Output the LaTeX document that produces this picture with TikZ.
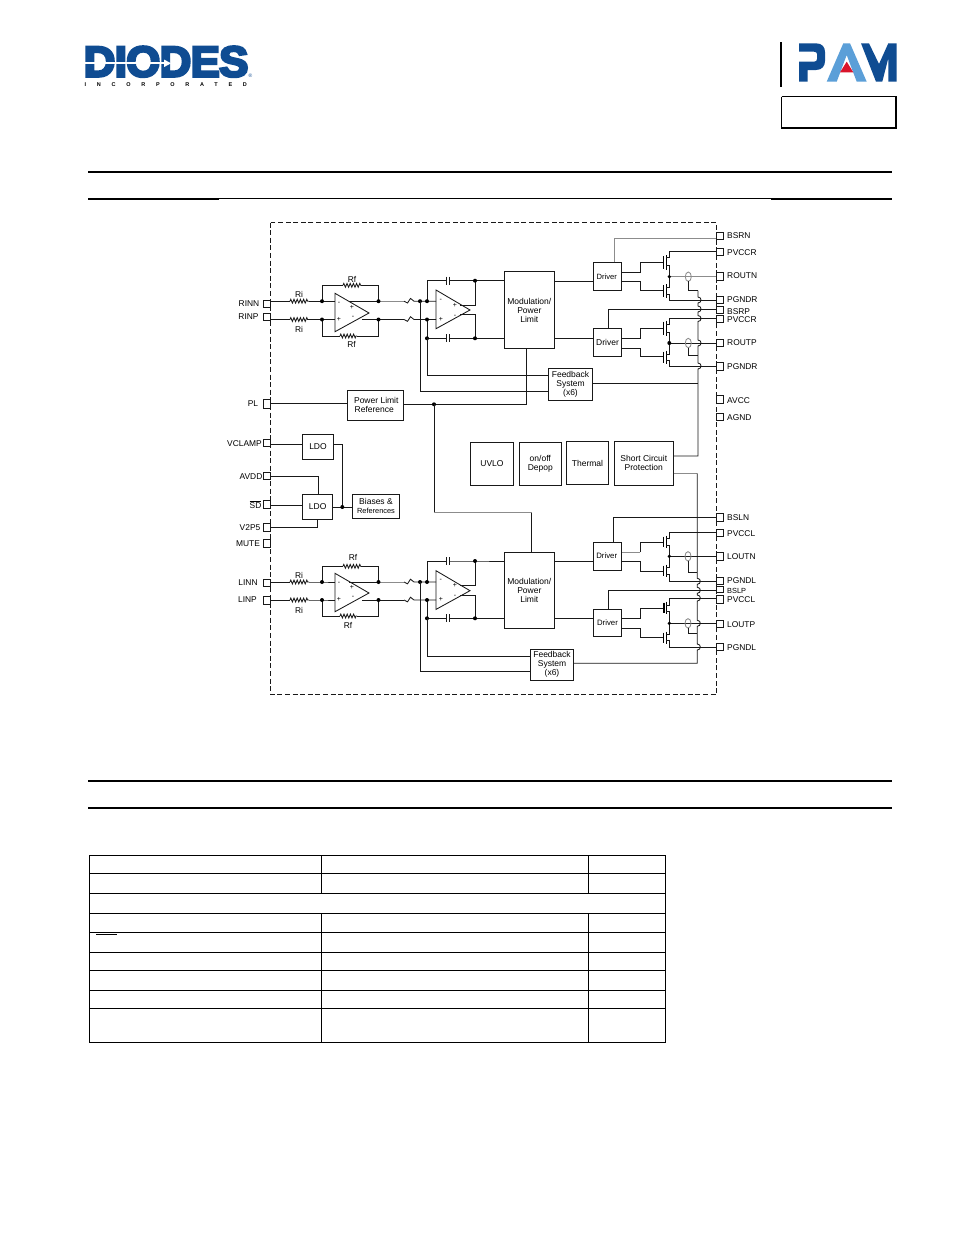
\documentclass[tikz,border=0pt]{standalone}
\usepackage{fontspec}
\setmainfont{Liberation Sans}
\newfontfamily\heavyfont[BoldFeatures={FakeBold=6,FakeStretch=1.02,LetterSpace=-1.6}]{Liberation Sans}
\newfontfamily\incfont[BoldFeatures={LetterSpace=195}]{Liberation Sans}
\usetikzlibrary{decorations.pathmorphing}
\definecolor{dblue}{HTML}{0F4C92}
\definecolor{lblue}{HTML}{5B9FD8}
\definecolor{pamred}{HTML}{D9142B}
\definecolor{thin}{gray}{0.55}
\tikzset{
  wire/.style={draw=black!90,line width=0.85pt},
  gwire/.style={draw=thin,line width=0.85pt},
  blockn/.style={draw=black!90,line width=0.85pt,inner sep=0pt,align=center,font=\fontsize{8.5}{9}\selectfont},
  pinbox/.style={draw=black!90,line width=0.85pt,inner sep=0pt},
  lbl/.style={inner sep=0pt,yshift=-0.5pt,font=\fontsize{8.4}{9}\selectfont},
  sgn/.style={inner sep=0pt,font=\fontsize{7}{8}\selectfont},
  rule/.style={draw=black,line width=1.6pt},
  cell/.style={draw=black,line width=0.9pt},
  resz/.style={wire,decorate,decoration={zigzag,segment length=3.2pt,amplitude=1.9pt}},
}
% \blk{name}{x0}{y0}{x1}{y1}{text}
\newcommand{\blk}[6]{%
  \pgfmathsetmacro{\bw}{#4-#2}\pgfmathsetmacro{\bh}{#5-#3}%
  \pgfmathsetmacro{\bx}{(#4+#2)/2}\pgfmathsetmacro{\by}{(#5+#3)/2}%
  \node[blockn,minimum width=\bw pt,minimum height=\bh pt] (#1) at (\bx,\by) {#6};}
% \pinb{name}{x0}{y0}{y1}
\newcommand{\pinb}[4]{%
  \pgfmathsetmacro{\bw}{7}\pgfmathsetmacro{\bh}{#4-#3}%
  \pgfmathsetmacro{\bx}{#2+3.5}\pgfmathsetmacro{\by}{(#4+#3)/2}%
  \node[pinbox,minimum width=\bw pt,minimum height=\bh pt] (#1) at (\bx,\by) {};}
% \fet{gate-in y}{gate y}{channel top}{channel bottom}{driver}
\newcommand{\fet}[5]{%
  \draw[wire] (#5.east |- 0,#1) -- (640,#1) -- (640,#2) -- (662.7,#2);
  \draw[line width=1pt] (663.4,#3) -- (663.4,#4);
  \draw[line width=1pt] (666,#3-1) -- (666,#4+1);
}
\begin{document}
\begin{tikzpicture}[x=1pt,y=-1pt]
\useasboundingbox (0,0) rectangle (954,1235);
\fill[white] (0,0) rectangle (954,1235);
% ---------- logos
\node[inner sep=0pt,anchor=base west,text=dblue,font=\fontsize{43}{43}\bfseries\heavyfont] (diodes) at (83.5,76.5) {DIODES};
\draw[white,line width=2pt] (84,63.3) -- (164,63.3);
\fill[white] (164,59.5) -- (171,63.3) -- (164,67.1) -- cycle;
\node[inner sep=0pt,text=dblue,font=\fontsize{5}{5}\selectfont] (regm) at (250.5,76) {®};
\node[inner sep=0pt,anchor=base west,font=\fontsize{5.5}{6}\bfseries\incfont] (inc) at (84.5,86.5) {INCORPORATED};
\draw[black,line width=1.2pt] (781,42) -- (781,87);
\fill[dblue] (799,43.3) -- (816,43.3) .. controls (822,43.3) and (825,47) .. (825,52) -- (825,61) .. controls (825,66) and (822,70) .. (816,70) -- (807.7,70) -- (807.7,81.7) -- (799,81.7) -- (799,61.7) -- (814,61.7) .. controls (816,61.7) and (817,60.5) .. (817,59) -- (817,54) .. controls (817,52.7) and (816,51.7) .. (814,51.7) -- (799,51.7) -- cycle;
\fill[lblue] (843.3,43.3) -- (850,43.3) -- (866.7,81.7) -- (856.7,81.7) -- (846.7,55) -- (836.7,81.7) -- (826.7,81.7) -- cycle;
\fill[pamred] (846.7,61.7) -- (853.3,72.3) -- (840,72.3) -- cycle;
\fill[dblue] (861,43.3) -- (869,43.3) -- (879,64) -- (888.3,43.3) -- (896.7,43.3) -- (896.7,81.7) -- (888.3,81.7) -- (888.3,58.3) -- (882.3,81.7) -- (876,81.7) -- cycle;
\draw[black,line width=1pt] (781.5,96.5) -- (895.5,96.5);
\draw[black,line width=1pt] (781.5,96.5) -- (781.5,128);
\draw[black,line width=1.6pt] (781,128) -- (896,128) -- (896,96);
% ---------- rules
\draw[rule] (88,172) -- (892,172);
\draw[rule] (88,199) -- (219,199);
\draw[black,line width=0.7pt] (219,198.7) -- (771,198.7);
\draw[rule] (771,199) -- (892,199);
\draw[rule] (88,781) -- (892,781);
\draw[rule] (88,808) -- (892,808);
% ---------- outer dashed box
\draw[black!90,line width=0.85pt,dash pattern=on 5pt off 2.6pt] (270.5,222.5) rectangle (716.7,694.5);
% ---------- pins left
\pinb{pRINN}{263.5}{300}{307}
\pinb{pRINP}{263.5}{313}{320.5}
\pinb{pPL}{263}{399}{408}
\pinb{pVCLAMP}{263.5}{439.3}{446.7}
\pinb{pAVDD}{263.5}{472.3}{479}
\pinb{pSD}{263.5}{500.7}{508.7}
\pinb{pV2P5}{263.5}{523.3}{531}
\pinb{pMUTE}{263.5}{539.7}{547.3}
\pinb{pLINN}{263.5}{579}{586.7}
\pinb{pLINP}{263.5}{596.7}{604}
% labels left
\node[lbl] (tRINN) at (249,303.5) {RINN};
\node[lbl] (tRINP) at (248.5,316.5) {RINP};
\node[lbl] (tPL) at (253,403) {PL};
\node[lbl] (tVCLAMP) at (244.5,443) {VCLAMP};
\node[lbl] (tAVDD) at (251,476) {AVDD};
\node[lbl] (tSD) at (255.5,504) {$\overline{\mbox{SD}}$};
\node[lbl] (tV2P5) at (250,527) {V2P5};
\node[lbl] (tMUTE) at (248,543) {MUTE};
\node[lbl] (tLINN) at (248,582) {LINN};
\node[lbl] (tLINP) at (247.5,599) {LINP};
% ---------- pins right
\foreach \nm/\a/\b in {BSRN/232.3/239.3,PVCCR/248/255.7,ROUTN/272/280,PGNDR/296.7/303,BSRP/306.7/313.3,PVCCRb/315.7/322,ROUTP/339.3/346.7,PGNDRb/362.7/370,AVCC/395.7/403.3,AGND/413.3/420.7,BSLN/513.3/521,PVCCL/529/536,LOUTN/552.7/560,PGNDL/577.3/584.3,BSLP/586.7/592.7,PVCCLb/595/603.3,LOUTP/620/627.3,PGNDLb/643.3/650.7}{\pinb{p\nm}{716.7}{\a}{\b}}
\foreach \nm/\y/\t in {BSRN/235.5/BSRN,PVCCR/252/PVCCR,ROUTN/275.5/ROUTN,PGNDR/299/PGNDR,BSRP/311/BSRP,PVCCRb/319/PVCCR,ROUTP/342/ROUTP,PGNDRb/366/PGNDR,AVCC/400/AVCC,AGND/417/AGND,BSLN/517/BSLN,PVCCL/533/PVCCL,LOUTN/556/LOUTN,PGNDL/580/PGNDL,PVCCLb/599/PVCCL,LOUTP/624/LOUTP,PGNDLb/647/PGNDL}{\node[lbl,anchor=west] (t\nm) at (727,\y) {\t};}
\node[lbl,anchor=west,font=\fontsize{7.4}{8}\selectfont] (tBSLP) at (727,590) {BSLP};
% ---------- blocks
\blk{modA}{504.3}{271.7}{554.3}{348.3}{Modulation/\\Power\\Limit}
\blk{modB}{504.3}{552.3}{554.3}{628.3}{Modulation/\\Power\\Limit}
\blk{drvA}{593.3}{262.7}{621.7}{290.3}{\fontsize{7.6}{8}\selectfont Driver\hspace*{1.5pt}}
\blk{drvB}{593.3}{328.3}{621.7}{356}{Driver}
\blk{drvC}{593.3}{542.3}{621.7}{570}{\fontsize{7.8}{8}\selectfont Driver\hspace*{1.5pt}}
\blk{drvD}{593.3}{609.3}{621.7}{636.7}{\fontsize{7.8}{8}\selectfont Driver}
\blk{fbA}{548.3}{368}{592.7}{400.3}{Feedback\\System\\(x6)}
\blk{fbB}{530.7}{649.3}{573.3}{680}{Feedback\\System\\(x6)}
\blk{plr}{347.3}{390.3}{403.3}{420.3}{\hspace*{2pt}Power Limit\\\hspace*{-2pt}Reference}
\blk{ldoA}{302.7}{434}{333.3}{459.3}{LDO}
\blk{ldoB}{302.7}{494.3}{332.7}{519.3}{LDO}
\blk{bias}{352.3}{494.3}{399.7}{518.3}{Biases \&\\{\fontsize{7.4}{9}\selectfont References}}
\blk{uvlo}{470.7}{442.3}{513.3}{485}{UVLO}
\blk{depop}{519.3}{442.7}{561.3}{485}{on/off\\Depop}
\blk{therm}{566.7}{441.7}{608.3}{484.3}{Thermal}
\blk{scp}{614.3}{441.7}{673.3}{485}{Short Circuit\\Protection}
% ---------- amplifiers
\foreach \dy/\ya/\yb/\yt/\yB/\ca/\cb/\sa/\sb in {0/301.2/319.5/285.3/336/280.7/338.3/305.7/314.3,1/582/600/566.3/616/561/618.3/585.3/595}{
  \pgfmathsetmacro{\ot}{\ifnum\dy=0 293.3\else 573.3\fi}
  \pgfmathsetmacro{\ob}{\ot+38.4}
  \pgfmathsetmacro{\om}{\ot+19.7}
  \draw[wire] (335,\ot) -- (369,\om) -- (335,\ob) -- cycle;
  \pgfmathsetmacro{\pt}{\ifnum\dy=0 290\else 570.7\fi}
  \pgfmathsetmacro{\pb}{\pt+38.7}
  \pgfmathsetmacro{\pm}{\pt+20}
  \draw[wire] (436,\pt) -- (470,\pm) -- (436,\pb) -- cycle;
  % resistors Ri
  \draw[wire] (270.5,\ya) -- (290,\ya); \draw[resz] (290,\ya) -- (309,\ya); \draw[wire] (309,\ya) -- (322,\ya) -- (335,\ya);
  \draw[wire] (270.5,\yb) -- (290,\yb); \draw[resz] (290,\yb) -- (309,\yb); \draw[wire] (309,\yb) -- (322,\yb) -- (335,\yb);
  % Rf
  \draw[wire] (322,\ya) -- (322,\yt) -- (343,\yt); \draw[resz] (343,\yt) -- (361,\yt); \draw[wire] (361,\yt) -- (378.5,\yt) -- (378.5,\ya);
  \draw[wire] (322,\yb) -- (322,\yB) -- (340,\yB); \draw[resz] (340,\yB) -- (357,\yB); \draw[wire] (357,\yB) -- (378.5,\yB) -- (378.5,\yb);
  % outputs first stage
  \draw[wire] (349,\ya) -- (378.5,\ya);
  \draw[wire] (362,\yb) -- (378.5,\yb);
  % series resistors
  \draw[gwire] (378.5,\ya) -- (404,\ya);
  \draw[wire] (378.5,\yb) -- (404,\yb);
  \draw[wire] (404,\ya) -- (407.5,\ya+1.8) -- (410.5,\ya-2.8) -- (414,\ya) -- (436,\ya);
  \draw[wire] (404,\yb) -- (407.5,\yb+1.8) -- (410.5,\yb-2.8) -- (414,\yb) -- (436,\yb);
  % second stage feedback with capacitors
  \draw[wire] (427,\ya) -- (427,\ca) -- (446.7,\ca);
  \draw[wire] (449.7,\ca) -- (475,\ca) -- (504.3,\ca);
  \draw[wire] (446.7,\ca-4) -- (446.7,\ca+4) (449.7,\ca-4) -- (449.7,\ca+4);
  \draw[wire] (427,\yb) -- (427,\cb) -- (446.7,\cb);
  \draw[wire] (449.7,\cb) -- (475,\cb) -- (504.3,\cb);
  \draw[wire] (446.7,\cb-4) -- (446.7,\cb+4) (449.7,\cb-4) -- (449.7,\cb+4);
  \draw[wire] (475,\ca) -- (475,\sa) -- (460,\sa);
  \draw[wire] (475,\cb) -- (475,\sb) -- (460,\sb);
  % junction dots
  \foreach \jx/\jy in {322/\ya,322/\yb,378.5/\ya,378.5/\yb,420/\ya,427/\ya,427/\yb,475/\ca,475/\cb,427/\cb}{\fill (\jx,\jy) circle[radius=2];}
  % signs
  \node[sgn] at (339,\ot+10) {-};
  \node[sgn] at (352,\ot+14) {+};
  \node[sgn] at (339,\ot+26) {+};
  \node[sgn] at (353,\ot+24) {-};
  \node[sgn] at (440.7,\pt+10) {-};
  \node[sgn] at (455,\pt+15) {+};
  \node[sgn] at (455,\pt+26) {-};
  \node[sgn] at (441,\pt+29) {+};
}
% labels Ri / Rf
\foreach \x/\y/\t in {299/294/Ri,299/328.5/Ri,352/279/Rf,351.5/344/Rf,299/575/Ri,299/610/Ri,353/556.5/Rf,348/624.5/Rf}{\node[lbl] at (\x,\y) {\t};}
% ---------- connections upper
\draw[wire] (420,301.2) -- (420,391) -- (fbA.west |- 0,391);
\draw[wire] (427,338.3) -- (427,375) -- (fbA.west |- 0,375);
\draw[wire] (pPL.east) -- (plr.west |- pPL.east);
\draw[wire] (plr.east |- 0,404.3) -- (526,404.3) -- (526,348.3);
\fill (434,404.3) circle[radius=2];
\draw[wire] (434,404.3) -- (434,512.5);
\draw[gwire] (434,512.5) -- (531.7,512.5);
\draw[wire] (531.7,512.5) -- (modB.north -| 531.7,0);
% mod to drivers
\draw[wire] (modA.east |- 0,281.3) -- (drvA.west |- 0,281.3);
\draw[wire] (modA.east |- 0,338) -- (drvB.west |- 0,338);
\draw[wire] (modB.east |- 0,561) -- (drvC.west |- 0,561);
\draw[wire] (modB.east |- 0,618.3) -- (drvD.west |- 0,618.3);
% bootstrap
\draw[gwire] (drvA.north -| 614.3,0) -- (614.3,238) -- (pBSRN.west |- 0,238);
\draw[wire] (drvB.north -| 608.3,0) -- (608.3,309.3) -- (pBSRP.west |- 0,309.3);
\draw[wire] (drvC.north -| 613.3,0) -- (613.3,517.3) -- (pBSLN.west |- 0,517.3);
\draw[wire] (drvD.north -| 608.3,0) -- (608.3,590.3) -- (pBSLP.west |- 0,590.3);
% MOSFETs: driver A
\fet{272.3}{262.3}{256}{269.3}{drvA}
\fet{281.7}{290}{285}{296.7}{drvA}
\draw[wire] (666,257) -- (669.3,257) -- (669.3,251.5) -- (pPVCCR.west |- 0,251.5);
\draw[wire] (666,265) -- (669.3,265) -- (669.3,287.3) -- (666,287.3);
\draw[wire] (666,294) -- (669.3,294) -- (669.3,300) -- (694,300);
\draw[gwire] (669.3,276.7) -- (pROUTN.west |- 0,276.7);
\fill (669.3,276.7) circle[radius=1.8];
% driver B
\fet{338.3}{328.3}{321.7}{335}{drvB}
\fet{348.3}{356}{351.7}{362.7}{drvB}
\draw[wire] (666,324) -- (669.3,324) -- (669.3,318.5) -- (pPVCCRb.west |- 0,318.5);
\draw[wire] (666,332.7) -- (669.3,332.7) -- (669.3,354) -- (666,354);
\draw[wire] (666,360) -- (669.3,360) -- (669.3,366) -- (pPGNDRb.west |- 0,366);
\draw[wire] (669.3,343) -- (pROUTP.west |- 0,343);
\fill (669.3,343) circle[radius=2];
\draw[wire] (694,300) -- (pPGNDR.west |- 0,300);
% driver C
\draw[gwire] (drvC.east |- 0,552) -- (640,552);
\draw[wire] (640,552) -- (640,542.3) -- (662.7,542.3);
\draw[line width=1pt] (663.4,536.7) -- (663.4,547.3);
\draw[line width=1pt] (666,535.7) -- (666,548.3);
\fet{561}{571.7}{565.7}{575.7}{drvC}
\draw[wire] (666,538) -- (669.3,538) -- (669.3,532) -- (pPVCCL.west |- 0,532);
\draw[wire] (666,545) -- (669.3,545) -- (669.3,567.3) -- (666,567.3);
\draw[wire] (666,574) -- (669.3,574) -- (669.3,581.3) -- (pPGNDL.west |- 0,581.3);
\draw[wire] (669.3,556.3) -- (pLOUTN.west |- 0,556.3);
\fill (669.3,556.3) circle[radius=1.8];
% driver D
\fet{618.3}{608.3}{602.7}{613.3}{drvD}
\fet{628.3}{637.7}{632.7}{643.3}{drvD}
\draw[line width=1.4pt] (664.5,602.7) -- (664.5,613.3);
\draw[wire] (666,605) -- (669.3,605) -- (669.3,598) -- (pPVCCLb.west |- 0,598);
\draw[wire] (666,611.7) -- (669.3,611.7) -- (669.3,634) -- (666,634);
\draw[wire] (666,640.7) -- (669.3,640.7) -- (669.3,647) -- (pPGNDLb.west |- 0,647);
\draw[wire] (669.3,623.3) -- (pLOUTP.west |- 0,623.3);
\fill (669.3,623.3) circle[radius=1.8];
% current sense ovals
\foreach \oy/\ob in {276.7/290.7,343/355.7}{
  \draw[gwire] (688.3,\oy) ellipse[x radius=3,y radius=4.7];
  \draw[wire] (688.3,\oy+4.7) -- (688.3,\ob) -- (698,\ob);
}
\foreach \oy/\ob in {556.3/572,623.3/633.3}{
  \draw[gwire] (688,\oy) ellipse[x radius=3,y radius=4.7];
  \draw[wire] (688,\oy+4.7) -- (688,\ob) -- (697.3,\ob);
}
% sense buses with hops
\draw[wire] (698,290.7)
  -- (698,297) .. controls (702,297) and (702,303) .. (698,303)
  -- (698,306) .. controls (702,306) and (702,312) .. (698,312)
  -- (698,315.5) .. controls (702,315.5) and (702,321.5) .. (698,321.5)
  -- (698,340) .. controls (702,340) and (702,346) .. (698,346)
  -- (698,363) .. controls (702,363) and (702,369) .. (698,369)
  -- (698,456) -- (scp.east |- 0,456);
\draw[wire] (fbA.east |- 0,383.3) -- (698,383.3);
\draw[gwire] (scp.east |- 0,473.3) -- (697.3,473.3);
\draw[wire] (697.3,473.3)
  -- (697.3,578.3) .. controls (701.3,578.3) and (701.3,584.3) .. (697.3,584.3)
  -- (697.3,587.3) .. controls (701.3,587.3) and (701.3,593.3) .. (697.3,593.3)
  -- (697.3,595) .. controls (701.3,595) and (701.3,601) .. (697.3,601)
  -- (697.3,620.3) .. controls (701.3,620.3) and (701.3,626.3) .. (697.3,626.3)
  -- (697.3,644) .. controls (701.3,644) and (701.3,650) .. (697.3,650)
  -- (697.3,663.3) -- (fbB.east |- 0,663.3);
% ---------- lower-left connections
\draw[wire] (pVCLAMP.east |- 0,444.3) -- (ldoA.west |- 0,444.3);
\draw[wire] (ldoA.east |- 0,444.3) -- (342.3,444.3) -- (342.3,507);
\draw[wire] (pAVDD.east |- 0,476.7) -- (318.3,476.7) -- (ldoB.north -| 318.3,0);
\draw[wire] (pSD.east |- 0,505.3) -- (ldoB.west |- 0,505.3);
\draw[wire] (pV2P5.east |- 0,527.3) -- (317.7,527.3) -- (ldoB.south -| 317.7,0);
\draw[wire] (ldoB.east |- 0,507) -- (bias.west |- 0,507);
\fill (342.3,507) circle[radius=2];
% ---------- lower amp to feedback
\draw[wire] (420,582) -- (420,671) -- (fbB.west |- 0,671);
\draw[wire] (427,618.3) -- (427,656.3) -- (fbB.west |- 0,656.3);
% ---------- table
\foreach \y in {855.3,873.3,893.3,913.3,932.3,952.3,970.3,990.3,1008.3,1042.3}{\draw[cell] (89.3,\y) -- (665.7,\y);}
\draw[cell] (89.7,855) -- (89.7,1042.7);
\draw[cell] (665.5,855) -- (665.5,1042.7);
\foreach \x in {321.3,588.5}{
  \draw[cell] (\x,855.3) -- (\x,893.3);
  \draw[cell] (\x,913.3) -- (\x,1042.3);
}
\draw[black,line width=0.9pt] (96,934.3) -- (116.7,934.3);
\end{tikzpicture}
\end{document}
